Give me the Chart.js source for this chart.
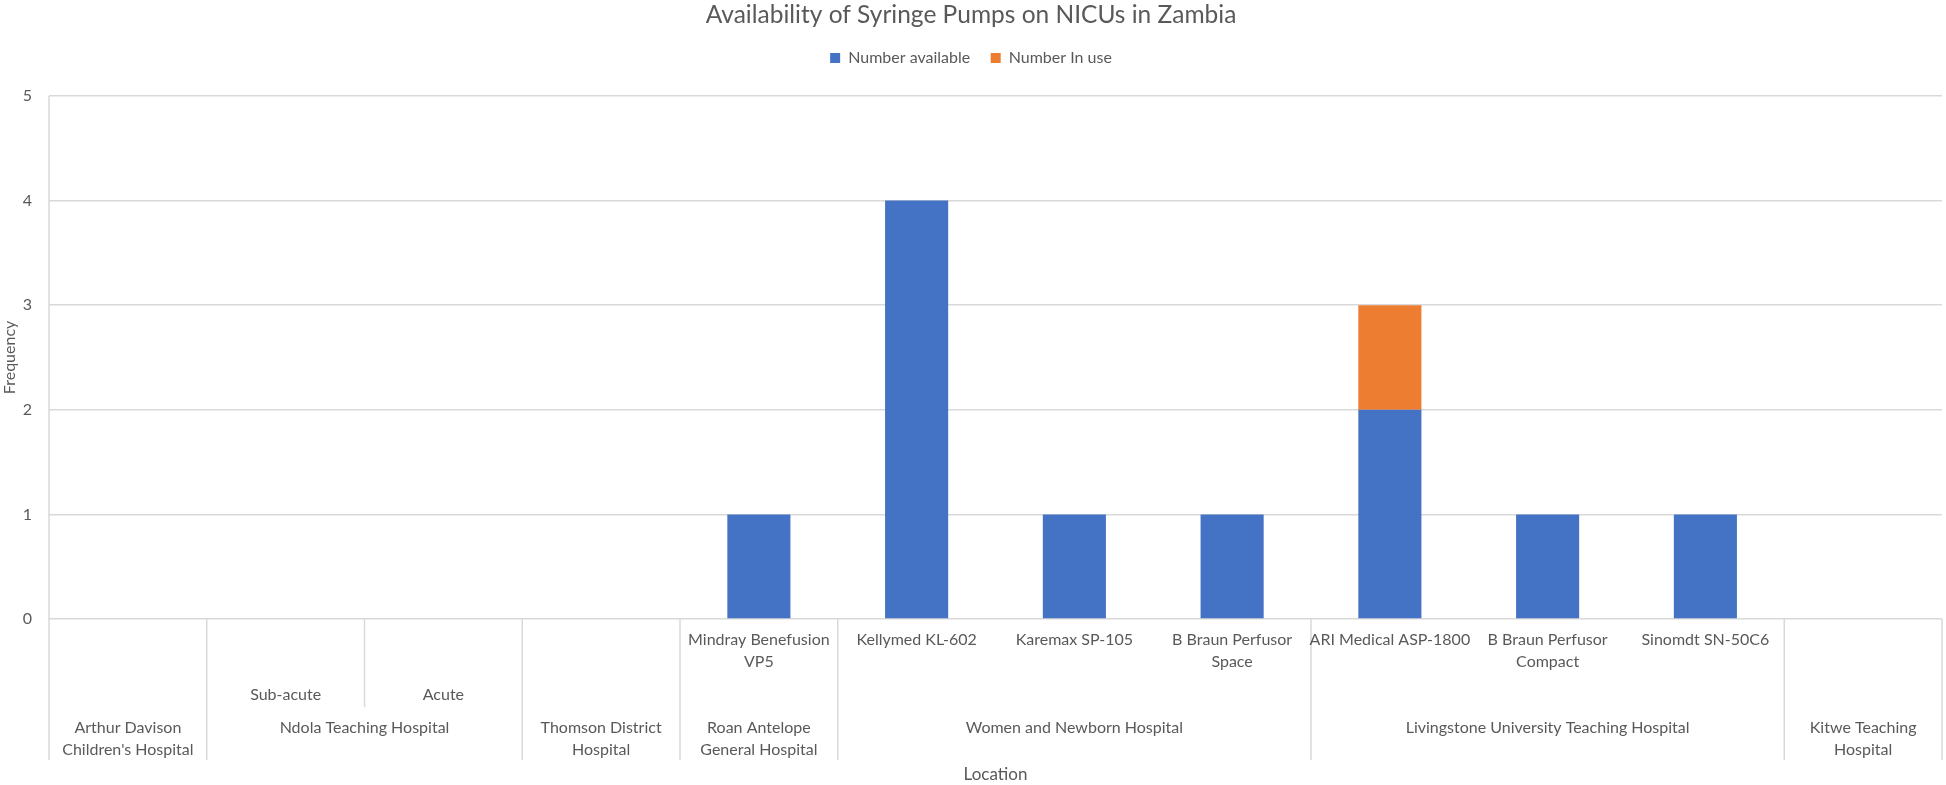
<!DOCTYPE html>
<html>
<head>
<meta charset="utf-8">
<script src="https://cdn.jsdelivr.net/npm/chart.js@4"></script>
<style>
  html, body { margin: 0; padding: 0; background: #fff; }
  #wrap { width: 1946px; height: 785px; position: relative; }
</style>
</head>
<body>
<div id="wrap"><canvas id="pumpChart"></canvas></div>
<script>
// one entry per column on the x axis
var devices = ['', '', '', '', ['Mindray Benefusion', 'VP5'], 'Kellymed KL-602', 'Karemax SP-105',
    ['B Braun Perfusor', 'Space'], 'ARI Medical ASP-1800', ['B Braun Perfusor', 'Compact'], 'Sinomdt SN-50C6', ''];
var units = ['', 'Sub-acute', 'Acute', '', '', '', '', '', '', '', '', ''];
var hospitals = [
    ['Arthur Davison', "Children's Hospital"],
    'Ndola Teaching Hospital', 'Ndola Teaching Hospital',
    ['Thomson District', 'Hospital'],
    ['Roan Antelope', 'General Hospital'],
    'Women and Newborn Hospital', 'Women and Newborn Hospital', 'Women and Newborn Hospital',
    'Livingstone University Teaching Hospital', 'Livingstone University Teaching Hospital', 'Livingstone University Teaching Hospital',
    ['Kitwe Teaching', 'Hospital']
];
var numberAvailable = [null, null, null, null, 1, 4, 1, 1, 2, 1, 1, null];
var numberInUse = [null, null, null, null, 0, 0, 0, 0, 1, 0, 0, null];

var textColor = '#595959';
var lineColor = '#D9D9D9';
var fontFamily = "Lato, 'Noto Sans', sans-serif";

Chart.defaults.font.family = fontFamily;
Chart.defaults.color = textColor;

function sameLabel(a, b) {
    return String(a) === String(b);
}

// draws the three rows of category labels under the plot, Excel style
var groupedAxis = {
    id: 'groupedAxis',
    afterInit(chart) {
        // push the plot down a little below the legend
        var fit = chart.legend.fit;
        chart.legend.fit = function () {
            fit.call(this);
            this.height += 20;
        };
    },
    afterDraw(chart) {
        var ctx = chart.ctx;
        var xs = chart.scales.x;
        var area = chart.chartArea;
        var n = devices.length;
        var w = (area.right - area.left) / n;
        var base = area.bottom;
        var fullBottom = base + 141;
        var unitBottom = base + 88;
        var lh = 22;

        ctx.save();
        ctx.strokeStyle = lineColor;
        ctx.lineWidth = 1.5;

        // left axis line, right edge
        ctx.beginPath();
        ctx.moveTo(area.left, area.top);
        ctx.lineTo(area.left, fullBottom);
        ctx.moveTo(area.right, base);
        ctx.lineTo(area.right, fullBottom);
        for (var i = 1; i < n; i++) {
            var bx = xs.getPixelForValue(i) - w / 2;
            if (!sameLabel(hospitals[i], hospitals[i - 1])) {
                ctx.moveTo(bx, base);
                ctx.lineTo(bx, fullBottom);
            } else if (!sameLabel(units[i], units[i - 1])) {
                ctx.moveTo(bx, base);
                ctx.lineTo(bx, unitBottom);
            }
        }
        ctx.stroke();

        ctx.fillStyle = textColor;
        ctx.font = '16px ' + fontFamily;
        ctx.textAlign = 'center';
        ctx.textBaseline = 'middle';

        function drawLines(label, x, y) {
            var lines = Array.isArray(label) ? label : [label];
            lines.forEach(function (t, k) {
                ctx.fillText(t, x, y + k * lh);
            });
        }

        for (var j = 0; j < n; j++) {
            var cx = xs.getPixelForValue(j);
            if (devices[j]) drawLines(devices[j], cx, base + 21);
            if (units[j]) drawLines(units[j], cx, base + 76);
        }

        // hospital groups span consecutive equal labels
        var start = 0;
        for (var k = 1; k <= n; k++) {
            if (k === n || !sameLabel(hospitals[k], hospitals[start])) {
                var mid = (xs.getPixelForValue(start) + xs.getPixelForValue(k - 1)) / 2;
                drawLines(hospitals[start], mid, base + 109);
                start = k;
            }
        }
        ctx.restore();
    }
};

var ctx = document.getElementById('pumpChart').getContext('2d');
var chart = new Chart(ctx, {
    type: 'bar',
    data: {
        labels: devices,
        datasets: [
            { label: 'Number available', data: numberAvailable, backgroundColor: '#4472C4' },
            { label: 'Number In use', data: numberInUse, backgroundColor: '#ED7D31' }
        ]
    },
    options: {
        responsive: true,
        maintainAspectRatio: false,
        animation: false,
        layout: { padding: { left: 0, right: 4, top: 0, bottom: 0 } },
        datasets: { bar: { categoryPercentage: 0.4, barPercentage: 1, borderWidth: 0 } },
        plugins: {
            title: {
                display: true,
                text: 'Availability of Syringe Pumps on NICUs in Zambia',
                color: textColor,
                font: { size: 24.5, weight: 'normal' },
                padding: { top: 0, bottom: 0 }
            },
            legend: {
                position: 'top',
                labels: { boxWidth: 10, boxHeight: 10, padding: 20.5, color: textColor, font: { size: 16 } }
            },
            tooltip: { enabled: false }
        },
        scales: {
            x: {
                stacked: true,
                grid: { display: false },
                border: { display: false },
                ticks: { display: false },
                title: { display: true, text: 'Location', color: textColor, font: { size: 17 }, padding: 0 },
                afterFit: function (s) { s.height = 166; }
            },
            y: {
                stacked: true,
                min: 0,
                max: 5,
                ticks: { stepSize: 1, padding: 17, color: textColor, font: { size: 16 } },
                grid: { color: lineColor, lineWidth: 1.5, drawTicks: false },
                border: { display: false },
                title: { display: true, text: 'Frequency', color: textColor, font: { size: 16 }, padding: 0 },
                afterFit: function (s) { s.width = 49; }
            }
        }
    },
    plugins: [groupedAxis]
});
</script>
</body>
</html>
